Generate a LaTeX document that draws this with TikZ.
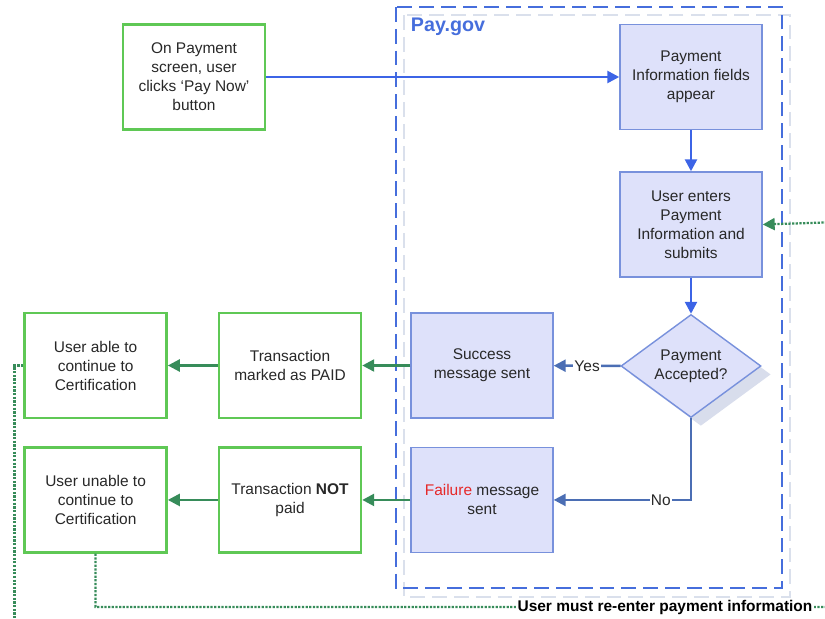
\documentclass[tikz,border=0pt]{standalone}
\usepackage{fontspec}
\setmainfont{Liberation Sans}
\usepackage{tikz}
\usetikzlibrary{positioning}
\usetikzlibrary{shapes.geometric}
\usetikzlibrary{arrows.meta}
\usetikzlibrary{shadows}

\definecolor{boxgreen}{RGB}{95,200,85}
\definecolor{linegreen}{RGB}{55,140,90}
\definecolor{boxblue}{RGB}{120,145,220}
\definecolor{fillblue}{RGB}{222,225,250}
\definecolor{arrowblue}{RGB}{60,100,230}
\definecolor{darkblue}{RGB}{75,110,180}
\definecolor{dashblue}{RGB}{70,110,220}
\definecolor{dashgray}{RGB}{218,224,236}
\definecolor{shadowblue}{RGB}{216,221,236}
\definecolor{textgray}{RGB}{40,40,40}
\definecolor{failred}{RGB}{230,40,40}

\begin{document}
\begin{tikzpicture}[
        x = 0.025cm,
        y = -0.025cm,
        every node/.style = {
            font = \fontsize{11}{13.5}\selectfont,
            text = textgray,
            align = center
        },
        greenbox/.style = {
            draw = boxgreen,
            line width = 1.7pt,
            fill = white,
            minimum width = 3.55cm,
            minimum height = 2.625cm,
            inner sep = 2pt
        },
        bluebox/.style = {
            draw = boxblue,
            line width = 1pt,
            fill = fillblue,
            minimum width = 3.55cm,
            minimum height = 2.625cm,
            inner sep = 2pt
        },
        choice/.style = {
            diamond,
            draw = boxblue,
            line width = 1pt,
            fill = fillblue,
            aspect = 1.36,
            inner sep = 0pt,
            minimum width = 3.5cm,
            minimum height = 2.575cm,
            drop shadow = {shadow xshift=7pt, shadow yshift=-6pt, fill=shadowblue, opacity=1}
        },
        bluearrow/.style = {draw=arrowblue, line width=1.8pt, -{Triangle[length=8.5pt, width=8.5pt]}},
        darkarrow/.style = {draw=darkblue, line width=1.8pt, -{Triangle[length=8.5pt, width=8.5pt]}},
        greenarrow/.style = {draw=linegreen, line width=1.8pt, -{Triangle[length=8.5pt, width=8.5pt]}},
        redo/.style = {draw=linegreen, line width=1.6pt, densely dotted},
        lbl/.style = {fill=white, inner sep=1pt},
        node distance = {1.2cm}
        ]
%
        \clip (0,0) rectangle (825,619);
%
        \draw[dashgray, line width=1.6pt, dash pattern=on 10.5pt off 5pt] (404,15) rectangle (790,597);
        \draw[dashblue, line width=2.1pt, dash pattern=on 10.5pt off 5pt] (396,7) rectangle (782,588);
        \node[anchor=west, text=dashblue, font=\bfseries\fontsize{14}{16}\selectfont] (paygov) at (406,27) {Pay.gov};
%
        \node[greenbox] (start) at (194,77) {On Payment\\screen, user\\clicks ‘Pay Now’\\button};
        \node[bluebox] (info) at (691,77) {Payment\\Information fields\\appear};
        \node[bluebox] (enter) at (691,224.5) {User enters\\Payment\\Information and\\submits};
        \node[choice] (accept) at (691,366) {Payment\\Accepted?};
%
        \node[bluebox] (success) at (482,365.5) {Success\\message sent};
        \node[bluebox, below=0.7cm of success] (failure) {{\color{failred}Failure} message\\sent};
%
        \node[greenbox, left=of success] (paid) {Transaction\\marked as PAID};
        \node[greenbox, left=of failure] (notpaid) {Transaction \textbf{NOT}\\paid};
        \node[greenbox, left=1.25cm of paid] (able) {User able to\\continue to\\Certification};
        \node[greenbox, left=1.25cm of notpaid] (unable) {User unable to\\continue to\\Certification};
%
        \coordinate (low) at (840,607);
        \coordinate (high) at (840,222);
%
        \draw[bluearrow] (start) -- (info);
        \draw[bluearrow] (info) -- (enter);
        \draw[bluearrow] (enter) -- (accept);
        \draw[darkarrow] (accept) -- node[lbl]{Yes} (success);
        \draw[darkarrow] (accept.south) |- node[lbl, pos=0.61]{No} (failure);
%
        \draw[greenarrow] (success) -- (paid);
        \draw[greenarrow] (paid) -- (able);
        \draw[greenarrow] (failure) -- (notpaid);
        \draw[greenarrow] (notpaid) -- (unable);
%
        \draw[redo] (able.west) -- ++(-9,0) -- ++(0,300);
        \draw[redo, -{Triangle[length=8.5pt, width=8.5pt]}] (unable.south) |- (low) -- (high) -- (enter.east);
        \node[lbl, font=\bfseries\fontsize{11}{13.5}\selectfont, text=black] (again) at (665,607) {User must re-enter payment information};
    \end{tikzpicture}
\end{document}
